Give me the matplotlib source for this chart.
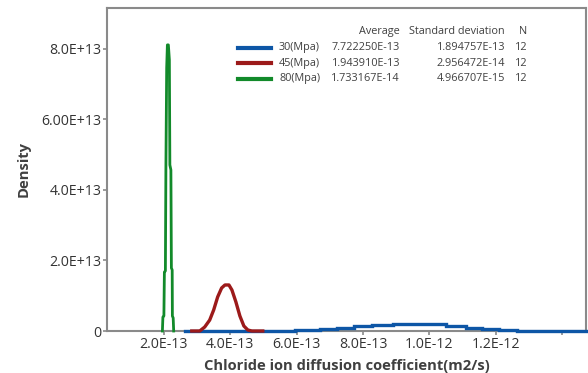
import numpy as np
import matplotlib
matplotlib.use("Agg")
import matplotlib.pyplot as plt
from matplotlib.lines import Line2D

plt.rcParams['font.family'] = ['Open Sans', 'DejaVu Sans']

# x in units of 1E-13 m2/s, density in units of 1E13
x_30 = [2.63, 5.94, 6.69, 7.23, 7.74, 8.26, 8.89, 10.51, 11.11, 11.59, 12.10, 12.65, 13.40, 14.72]
y_30 = [0.0, 0.028, 0.057, 0.094, 0.133, 0.162, 0.190, 0.142, 0.094, 0.057, 0.028, 0.010, 0.0, 0.0]

x_45 = [2.84, 3.08, 3.23, 3.38, 3.50, 3.62, 3.74, 3.84, 3.96, 4.05, 4.17, 4.29, 4.41, 4.53, 4.65, 4.98]
y_45 = [0.0, 0.0, 0.113, 0.31, 0.596, 0.965, 1.22, 1.305, 1.305, 1.163, 0.823, 0.426, 0.142, 0.028, 0.0, 0.0]

x_80 = [1.955, 1.970, 2.000, 2.015, 2.045, 2.060, 2.084, 2.105, 2.135, 2.165, 2.180,
        2.211, 2.226, 2.250, 2.256, 2.280, 2.295]
y_80 = [0.0, 0.397, 0.426, 1.674, 1.702, 4.567, 7.461, 8.114, 8.114, 7.688, 4.709,
        4.567, 1.787, 1.731, 0.426, 0.369, 0.0]

groups = ['30(Mpa)', '45(Mpa)', '80(Mpa)']
averages = ['7.722250E-13', '1.943910E-13', '1.733167E-14']
std_devs = ['1.894757E-13', '2.956472E-14', '4.966707E-15']
counts = ['12', '12', '12']
colors = ['#0d56a6', '#9c1a1a', '#128a2a']

x_ticks = [2, 4, 6, 8, 10, 12, 14]
x_ticklabels = ['2.0E-13', '4.0E-13', '6.0E-13', '8.0E-13', '1.0E-12', '1.2E-12', '']
y_ticks = [0, 2, 4, 6, 8]
y_ticklabels = ['0', '2.0E+13', '4.0E+13', '6.00E+13', '8.0E+13']

fig = plt.figure(figsize=(5.88, 3.73), dpi=100)
ax = fig.add_axes([0.182, 0.1126, 0.8146, 0.866])

ax.plot(np.array(x_30) * 1e-13, np.array(y_30) * 1e13, color=colors[0], lw=2.4,
        drawstyle='steps-post', solid_joinstyle='miter', zorder=3, clip_on=False)
ax.plot(np.array(x_45) * 1e-13, np.array(y_45) * 1e13, color=colors[1], lw=2.4,
        zorder=3.1, clip_on=False)
ax.plot(np.array(x_80) * 1e-13, np.array(y_80) * 1e13, color=colors[2], lw=2.0,
        zorder=3.2, clip_on=False)

ax.set_xlim(0.286e-13, 14.72e-13)
ax.set_ylim(0, 9.16e13)

ax.set_xticks(np.array(x_ticks) * 1e-13)
ax.set_xticklabels(x_ticklabels)
ax.set_yticks(np.array(y_ticks) * 1e13)
ax.set_yticklabels(y_ticklabels)

for s in ax.spines.values():
    s.set_color('#8a8a8a')
    s.set_linewidth(1.5)
ax.tick_params(axis='both', colors='#8a8a8a', labelcolor='#333333', labelsize=10.2,
               length=3, width=1.2, pad=1)

ax.set_xlabel('Chloride ion diffusion coefficient(m2/s)', fontsize=10.6, fontweight='bold',
              color='#404040', labelpad=5)
ax.set_ylabel('Density', fontsize=10.6, fontweight='bold', color='#404040', labelpad=8)

# legend table (axes fraction coordinates)
def fx(px):
    return (px - 107) / 479.0

def fy(py):
    return (331 - py) / 323.0

txt = dict(transform=ax.transAxes, fontsize=7.8, color='#404040', va='center')
ax.text(fx(400), fy(32), 'Average', ha='right', **txt)
ax.text(fx(505), fy(32), 'Standard deviation', ha='right', **txt)
ax.text(fx(523), fy(32), 'N', ha='center', **txt)
for i, g in enumerate(groups):
    py = 48 + i * 15.5
    ax.add_line(Line2D([fx(238), fx(271)], [fy(py), fy(py)], color=colors[i], lw=3,
                       transform=ax.transAxes))
    ax.text(fx(279), fy(py), g, ha='left', **txt)
    ax.text(fx(400), fy(py), averages[i], ha='right', **txt)
    ax.text(fx(505), fy(py), std_devs[i], ha='right', **txt)
    ax.text(fx(521.5), fy(py), counts[i], ha='center', **txt)

fig.savefig('out.png', dpi=100)
